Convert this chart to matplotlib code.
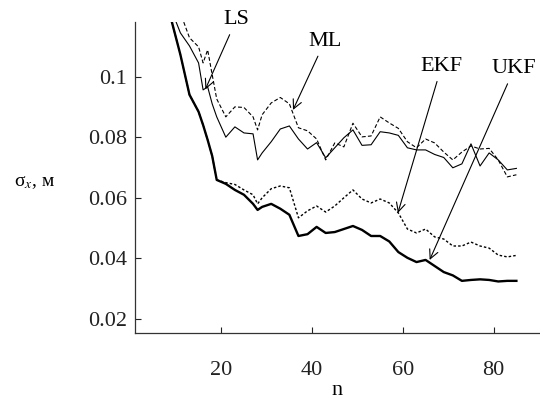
import matplotlib
matplotlib.use('Agg')
import matplotlib.pyplot as plt

plt.rcParams['font.family'] = ['Liberation Serif', 'DejaVu Serif']
plt.rcParams['mathtext.fontset'] = 'stix'

n = [7, 9, 11, 13, 15, 16, 17, 18, 19, 21, 23, 25, 27, 28, 29, 31, 33, 35, 37, 39,
     41, 43, 45, 47, 49, 51, 53, 55, 57, 59, 61, 63, 65, 67, 69, 71, 73, 75, 77, 79,
     81, 83, 85]

ukf = [0.135, 0.1187, 0.1072, 0.094, 0.0884, 0.084, 0.0791, 0.0738, 0.0659, 0.0646,
       0.0626, 0.061, 0.058, 0.056, 0.057, 0.058, 0.0564, 0.0544, 0.0474, 0.048,
       0.0504, 0.0484, 0.0487, 0.0497, 0.0507, 0.0494, 0.0474, 0.0474, 0.0456, 0.0421,
       0.0402, 0.0388, 0.0395, 0.0375, 0.0355, 0.0344, 0.0326, 0.0329, 0.0331, 0.0329,
       0.0324, 0.0326, 0.0326]
ekf = [0.135, 0.1187, 0.1072, 0.094, 0.0884, 0.084, 0.0791, 0.0738, 0.0659, 0.065,
       0.0644, 0.0626, 0.061, 0.058, 0.060, 0.063, 0.0639, 0.0633, 0.0534, 0.0557,
       0.0573, 0.0553, 0.0573, 0.060, 0.0626, 0.0596, 0.0583, 0.0596, 0.0583, 0.055,
       0.0497, 0.0484, 0.0497, 0.0471, 0.0464, 0.0441, 0.0441, 0.0454, 0.0441, 0.0434,
       0.0411, 0.0405, 0.041]
ls = [0.14, 0.122, 0.1144, 0.1101, 0.1045, 0.0956, 0.0966, 0.091, 0.0867, 0.080,
      0.0834, 0.0814, 0.0811, 0.0725, 0.0748, 0.0785, 0.0827, 0.0837, 0.0794, 0.0761,
      0.0782, 0.0732, 0.0765, 0.0798, 0.0824, 0.0773, 0.0775, 0.0818, 0.0814, 0.0806,
      0.0765, 0.0758, 0.0758, 0.0743, 0.0733, 0.0699, 0.0712, 0.0778, 0.0705, 0.0748,
      0.0725, 0.0692, 0.0697]
ml = [0.15, 0.13, 0.121, 0.1128, 0.1098, 0.1045, 0.1088, 0.1006, 0.0926, 0.0867,
      0.090, 0.0898, 0.0867, 0.0824, 0.0874, 0.0913, 0.0931, 0.091, 0.0831, 0.0821,
      0.0794, 0.0725, 0.0781, 0.0768, 0.0846, 0.0801, 0.0804, 0.0867, 0.0847, 0.0829,
      0.0785, 0.0765, 0.0794, 0.0781, 0.0751, 0.0725, 0.0751, 0.0771, 0.0761, 0.0763,
      0.0725, 0.0669, 0.0676]

fig = plt.figure(figsize=(5.4, 4.05), dpi=100)
ax = fig.add_axes([0.25, 0.1778, 0.75, 0.7679])

ax.plot(n, ukf, color='black', lw=1.7)
ax.plot(n, ekf, color='black', lw=1.0, linestyle=(0, (1.8, 1.5)))
ax.plot(n, ls, color='black', lw=0.8)
ax.plot(n, ml, color='black', lw=0.8, linestyle=(0, (3.5, 2)))

ax.set_xlim(1, 90.2)
ax.set_ylim(0.0154, 0.118)
ax.set_xticks([20, 40, 60, 80])
ax.set_yticks([0.02, 0.04, 0.06, 0.08, 0.1])
ax.set_yticklabels(['0.02', '0.04', '0.06', '0.08', '0.1'])

for s in ['top', 'right']:
    ax.spines[s].set_visible(False)
for s in ['left', 'bottom']:
    ax.spines[s].set_linewidth(0.9)
    ax.spines[s].set_color('#333333')
ax.tick_params(axis='both', direction='in', length=4, width=0.8, labelsize=16, colors='#222222')
ax.tick_params(axis='x', pad=20)
ax.tick_params(axis='y', pad=6)

ax.set_xlabel('n', fontsize=16, labelpad=1)
ax.set_ylabel('σ$_x$, м', fontsize=14, rotation=0, ha='center', va='center')
ax.yaxis.set_label_coords(-0.248, 0.4865)

# подписи кривых со стрелками
arrow = dict(arrowstyle='->', color='black', lw=0.8, shrinkA=2, shrinkB=0)
ax.annotate('LS', xy=(16.5, 0.0958), xytext=(23.3, 0.1187), fontsize=16,
            ha='center', va='center', arrowprops=arrow, annotation_clip=False)
ax.annotate('ML', xy=(35.8, 0.089), xytext=(42.8, 0.1116), fontsize=16,
            ha='center', va='center', arrowprops=arrow, annotation_clip=False)
ax.annotate('EKF', xy=(58.9, 0.055), xytext=(68.5, 0.1033), fontsize=16,
            ha='center', va='center', arrowprops=arrow, annotation_clip=False)
ax.annotate('UKF', xy=(65.9, 0.0395), xytext=(84.5, 0.1025), fontsize=16,
            ha='center', va='center', arrowprops=arrow, annotation_clip=False)

plt.savefig('out.png', dpi=100)
